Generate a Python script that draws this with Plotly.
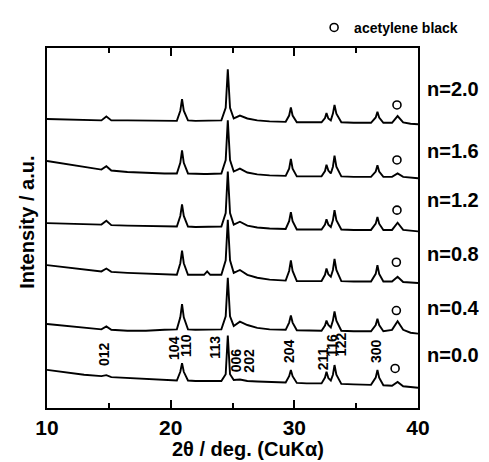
import plotly.graph_objects as go

# 2-theta sample positions (deg)
two_theta = [10.0, 11.5, 13.0, 14.4, 14.8, 15.2, 16.5, 18.0, 19.5, 20.5, 20.78, 20.92, 21.06, 21.4,
             22.0, 22.7, 22.95, 23.2, 24.1, 24.45, 24.62, 24.8, 25.1, 25.6, 26.2, 27.0, 28.0,
             29.3, 29.58, 29.72, 29.86, 30.2, 31.0, 32.2, 32.48, 32.6, 32.75, 32.95, 33.12, 33.25,
             33.4, 33.8, 34.8, 36.2, 36.58, 36.72, 36.86, 37.2, 37.9, 38.35, 38.8, 39.4, 40.0]

# intensities (a.u., stacked as shown)
I_n20 = [299.5, 299, 298.5, 298, 302, 298, 298, 298, 297.5, 297.5, 308, 320, 308, 298, 297.5, 297.5,
         297.5, 297.5, 298, 311, 351, 311, 300, 303, 300, 298, 297, 296.5, 303, 311.5, 303, 296, 296,
         296, 300.5, 305.5, 300, 298, 305, 314, 305, 296, 295.5, 295.5, 301, 307, 301, 295.5, 295.5,
         302.5, 296, 294.5, 294]
I_n16 = [256, 253, 250, 247, 250.5, 246, 244.5, 243.5, 243, 243, 254, 267, 254, 243, 242.5, 242.5,
         242.5, 242.5, 243, 257, 298, 257, 245, 248, 244, 242, 241, 240.5, 248, 258, 248, 240, 240,
         240, 245.5, 252, 246, 243, 250, 261.5, 250, 240, 239.5, 239.5, 245, 251.5, 245, 239.5, 239.5,
         243, 239.5, 238.5, 238]
I_n12 = [191.5, 191, 190.5, 190, 194, 189.5, 189, 188.5, 188, 188, 199, 211, 199, 188, 187.5, 187.5,
         187.5, 187.5, 188, 202, 245, 202, 190, 193, 189, 187, 186, 185.5, 193.5, 203, 193.5, 185, 185,
         185, 190, 195.5, 190, 187.5, 194.5, 205, 194.5, 185, 184.5, 184.5, 191, 198, 191, 184.5, 184.5,
         192, 184.5, 183.5, 183]
I_n08 = [148, 146, 144, 141.5, 144.5, 141, 140, 139, 138, 138, 150, 163, 150, 138, 138, 138, 141.5,
         138, 138, 153, 195, 153, 140, 143, 138, 135, 133, 132, 142, 153, 142, 131.5, 131.5, 131.5,
         138, 144.5, 138.5, 136, 143, 154.5, 143, 131.5, 131, 131, 139, 148, 139, 131, 131, 136, 130.5,
         130, 129.5]
I_n04 = [87, 85, 83, 81.5, 84.5, 81, 80, 80, 81, 81.5, 94, 107.5, 94, 81.5, 81, 81, 81, 81, 81.5, 95,
         135, 95, 85, 89.5, 86, 83, 81.5, 81, 88.5, 96, 88.5, 80.5, 80, 80, 85.5, 90.5, 86, 83.5, 90.5,
         100, 90.5, 80, 79.5, 79.5, 86, 92.5, 86, 79.5, 81, 90, 81, 78, 77]
I_n00 = [39.5, 37, 34.5, 33, 34, 32, 31, 30, 29, 28.5, 37.5, 46.5, 37.5, 28.5, 28, 28, 28, 28, 28, 35,
         75, 35, 29, 29.5, 28, 27.5, 27, 26.5, 33, 39.5, 33, 26, 25.5, 25.5, 31.5, 37.5, 31, 28.5, 34.5,
         44.5, 34.5, 25, 24.5, 24, 31.5, 39.5, 31.5, 23.5, 23, 27, 22.5, 21.5, 21]

series = [I_n20, I_n16, I_n12, I_n08, I_n04, I_n00]
sample_labels = ["n=2.0", "n=1.6", "n=1.2", "n=0.8", "n=0.4", "n=0.0"]
sample_label_y = [331, 266, 215, 160, 104, 55]

# acetylene black marks
ab_x = [38.3, 38.3, 38.3, 38.25, 38.25, 38.15]
ab_y = [314, 257, 205, 151, 101, 41]

# hkl indices for n=0.0
hkl_text = ["012", "104", "110", "113", "006", "202", "204", "211", "116", "122", "300"]
hkl_x = [14.62, 20.25, 21.3, 23.62, 25.25, 26.33, 29.57, 32.28, 33.09, 33.76, 36.6]
hkl_y = [56, 62, 65, 63, 49, 49, 59, 51, 65, 66, 59]

FONT = "Liberation Sans, Arial, Helvetica, sans-serif"

fig = go.Figure()
for ys in series:
    fig.add_trace(go.Scatter(x=two_theta, y=ys, mode="lines",
                             line=dict(color="black", width=1.9), showlegend=False,
                             hoverinfo="skip"))

fig.add_trace(go.Scatter(x=ab_x, y=ab_y, mode="markers", name="acetylene black",
                         marker=dict(symbol="circle-open", size=8, color="black",
                                     line=dict(width=1.6, color="black")),
                         showlegend=True))

for t, y in zip(sample_labels, sample_label_y):
    fig.add_annotation(x=1.019, xref="paper", y=y, yref="y", text="<b>%s</b>" % t,
                       showarrow=False, xanchor="left", yanchor="middle",
                       font=dict(family=FONT, size=20, color="black"))

for t, x, y in zip(hkl_text, hkl_x, hkl_y):
    fig.add_annotation(x=x, y=y, text="<b>%s</b>" % t, textangle=-90, showarrow=False,
                       xanchor="center", yanchor="middle",
                       font=dict(family=FONT, size=14, color="black"))

fig.add_annotation(x=-0.054, xref="paper", y=0.517, yref="paper",
                   text="<b>Intensity / a.u.</b>", textangle=-90, showarrow=False,
                   xanchor="center", yanchor="middle",
                   font=dict(family=FONT, size=20, color="black"))
fig.add_annotation(x=0.542, xref="paper", y=-0.115, yref="paper",
                   text="<b>2θ / deg. (CuKα)</b>", showarrow=False,
                   xanchor="center", yanchor="middle",
                   font=dict(family=FONT, size=20, color="black"))

fig.update_layout(
    width=489, height=462,
    margin=dict(l=47, r=71, t=35, b=54),
    plot_bgcolor="white", paper_bgcolor="white",
    legend=dict(x=0.72, y=1.056, xanchor="left", yanchor="middle",
                bgcolor="rgba(0,0,0,0)", font=dict(family=FONT, size=14, color="black", weight="bold"),
                itemwidth=30),
    xaxis=dict(range=[10, 40], tickvals=[10, 20, 30, 40], ticks="inside", ticklen=8, tickwidth=2,
               tickcolor="black", showline=True, linecolor="black", linewidth=2, mirror="ticks",
               showgrid=False, zeroline=False,
               minor=dict(tickvals=[15, 25, 35], ticks="inside", ticklen=5, tickwidth=2,
                          tickcolor="black", showgrid=False),
               tickfont=dict(family=FONT, size=21, color="black", weight="bold")),
    yaxis=dict(range=[0, 373], showticklabels=False, ticks="", showline=True, linecolor="black",
               linewidth=2, mirror=True, showgrid=False, zeroline=False),
)

fig.write_html("out.html")
